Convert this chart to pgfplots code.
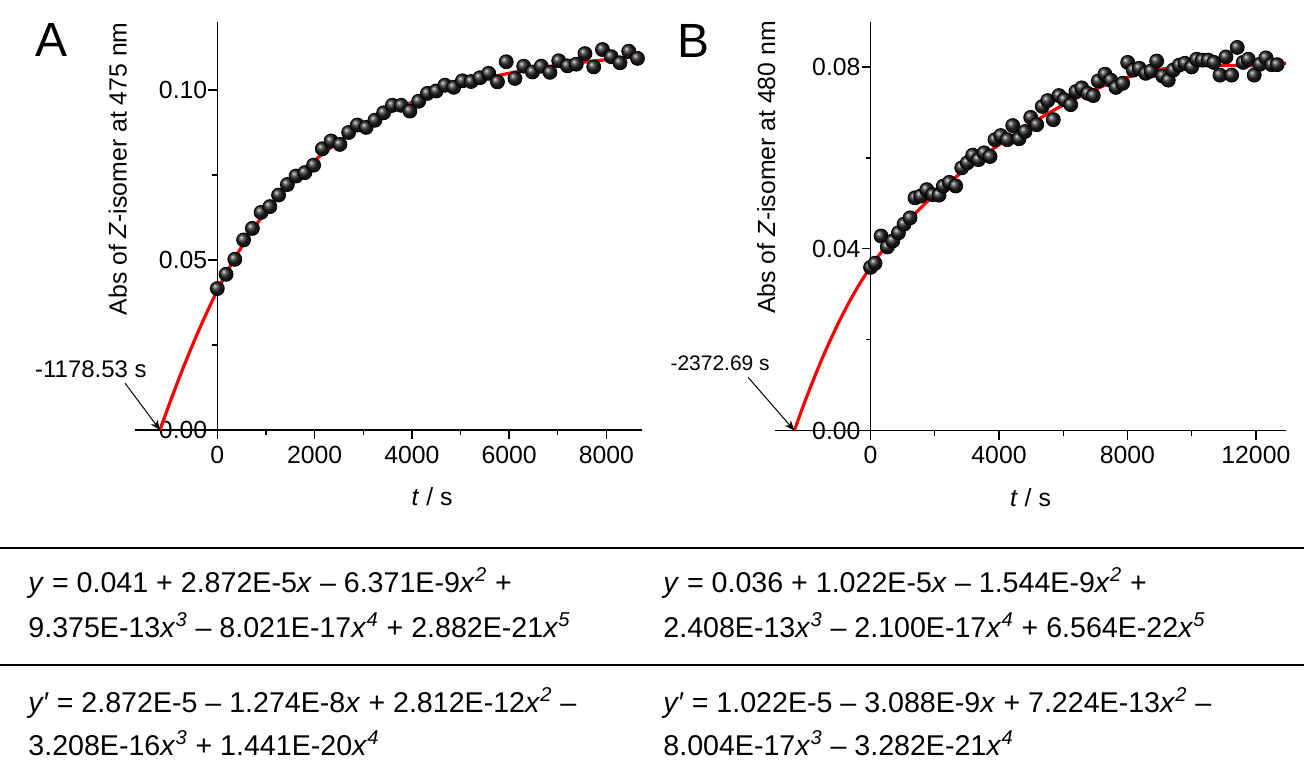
\documentclass[border=0pt]{standalone}
\usepackage{pgfplots}
\pgfplotsset{compat=1.18}
\usepackage{fontspec}
\setmainfont{Liberation Sans}
\usetikzlibrary{arrows.meta}

\pgfplotsset{
  kin/.style={
    scale only axis,
    axis lines=middle,
    hide obscured x ticks=false,
    hide obscured y ticks=false,
    axis line style={-, line width=0.7pt},
    tick align=outside,
    major tick length=4.5pt,
    minor tick length=2.5pt,
    tick style={black, line width=0.7pt},
    every tick label/.append style={font=\fontsize{12.4}{14}\selectfont},
    /pgf/number format/assume math mode=true,
    scaled ticks=false,
    minor x tick num=1,
    minor y tick num=1,
    ymin=0,
    clip=false,
    label style={font=\fontsize{12.4}{14}\selectfont},
    xticklabel style={/pgf/number format/1000 sep={}},
    yticklabel style={xshift=3pt, /pgf/number format/.cd, fixed, fixed zerofill, precision=2},
  },
  dots/.style={only marks, mark=ball, mark size=3.5pt, mark options={ball color=black!86}},
  fit/.style={red, line width=1.6pt, smooth, no marks},
}

\begin{document}
\begin{tikzpicture}
\useasboundingbox (0,0) rectangle (652pt,389pt);

% ---------------- Panel A ----------------
\begin{axis}[kin, at={(67.5pt,174pt)}, anchor=south west,
  width=253.5pt, height=204pt,
  xmin=-1693, xmax=8733, ymax=0.12,
  xtick={0,2000,4000,6000,8000}, ytick={0,0.05,0.10},
  xlabel={\textit{t} / s},
  ylabel={Abs of \textit{Z}-isomer at 475 nm},
  xlabel style={at={(axis description cs:0.586,-0.164)}, anchor=center},
  ylabel style={at={(axis description cs:-0.034,0.64)}, rotate=90, anchor=center},
]
\addplot[dots] coordinates {
(0,0.0416) (180,0.0458) (360,0.0502) (540,0.0559) (720,0.0593) (900,0.0640)
(1080,0.0657) (1260,0.0691) (1440,0.0722) (1620,0.0747) (1800,0.0757) (1980,0.0779)
(2160,0.0827) (2340,0.0850) (2520,0.0840) (2700,0.0875) (2880,0.0897) (3060,0.0890)
(3240,0.0911) (3420,0.0933) (3600,0.0955) (3780,0.0955) (3960,0.0938) (4140,0.0967)
(4320,0.0990) (4500,0.0997) (4680,0.1014) (4860,0.1008) (5040,0.1027) (5220,0.1025)
(5400,0.1036) (5580,0.1049) (5760,0.1024) (5940,0.1083) (6120,0.1034) (6300,0.1070)
(6480,0.1053) (6660,0.1070) (6840,0.1052) (7020,0.1086) (7200,0.1071) (7380,0.1076)
(7560,0.1107) (7740,0.1068) (7920,0.1119) (8100,0.1098) (8280,0.1080) (8460,0.1114)
(8640,0.1093)
};
\addplot[fit] coordinates {
(-1178.53,0) (-1000,0.00713) (-750,0.01656) (-500,0.02535) (-250,0.03350)
(0,0.04100) (250,0.04780) (500,0.05388) (750,0.05933) (1000,0.06421) (1500,0.07253)
(2000,0.07927) (2500,0.08478) (3000,0.08934) (3500,0.09315) (4000,0.09636)
(4500,0.09908) (5000,0.10139) (5500,0.10332) (6000,0.10492) (6500,0.10623)
(7000,0.10728) (7500,0.10814) (8000,0.10891) (8500,0.10973) (8733,0.11020)
};
\node[font=\fontsize{12}{14}\selectfont] at (axis cs:-2599,0.0179) {-1178.53 s};
\draw[-{Stealth[length=5pt,width=4pt]}, line width=0.5pt] (axis cs:-1899,0.0138) -- (axis cs:-1178.53,0);
\end{axis}

% ---------------- Panel B ----------------
\begin{axis}[kin, at={(387.5pt,173.75pt)}, anchor=south west,
  width=255.5pt, height=204.5pt,
  xmin=-2976, xmax=12938, ymax=0.09,
  xtick={0,4000,8000,12000}, ytick={0,0.04,0.08},
  xlabel={\textit{t} / s},
  ylabel={Abs of \textit{Z}-isomer at 480 nm},
  xlabel style={at={(axis description cs:0.5,-0.164)}, anchor=center},
  ylabel style={at={(axis description cs:-0.017,0.643)}, rotate=90, anchor=center},
]
\addplot[dots] coordinates {
(0,0.0359) (140,0.0368) (327,0.0428) (523,0.0404) (690,0.0417) (867,0.0435)
(1043,0.0454) (1230,0.0468) (1385,0.0512) (1562,0.0516) (1749,0.0530) (1936,0.0519)
(2132,0.0518) (2267,0.0538) (2453,0.0546) (2652,0.0538) (2839,0.0578) (3013,0.0589)
(3181,0.0606) (3356,0.0596) (3533,0.0611) (3720,0.0603) (3876,0.0640) (4053,0.0649)
(4259,0.0640) (4427,0.0671) (4623,0.0642) (4810,0.0658) (4987,0.0689) (5174,0.0673)
(5348,0.0713) (5516,0.0726) (5691,0.0684) (5868,0.0737) (6033,0.0728) (6232,0.0717)
(6397,0.0746) (6575,0.0754) (6761,0.0742) (6936,0.0737) (7091,0.0769) (7300,0.0784)
(7477,0.0771) (7642,0.0755) (7851,0.0764) (8007,0.0810) (8181,0.0793) (8368,0.0797)
(8567,0.0786) (8732,0.0791) (8909,0.0813) (9096,0.0780) (9271,0.0771) (9426,0.0793)
(9613,0.0804) (9791,0.0808) (9999,0.0800) (10155,0.0817) (10330,0.0815) (10516,0.0815)
(10693,0.0810) (10880,0.0782) (11067,0.0822) (11244,0.0782) (11419,0.0843) (11605,0.0810)
(11761,0.0817) (11948,0.0782) (12125,0.0806) (12312,0.0820) (12489,0.0805) (12664,0.0805)
};
\addplot[fit] coordinates {
(-2372.69,0) (-2000,0.00721) (-1500,0.01597) (-1000,0.02369) (-500,0.03037)
(0,0.03600) (500,0.04075) (1000,0.04490) (1500,0.04857) (2000,0.05188)
(3000,0.05772) (4000,0.06288) (5000,0.06753) (6000,0.07164) (7000,0.07509)
(8000,0.07773) (9000,0.07944) (10000,0.08024) (11000,0.08035) (12000,0.08028)
(12500,0.08044) (12938,0.08080)
};
\node[font=\fontsize{10.5}{12}\selectfont] at (axis cs:-4685,0.0148) {-2372.69 s};
\draw[-{Stealth[length=5pt,width=4pt]}, line width=0.5pt] (axis cs:-3813,0.0117) -- (axis cs:-2372.69,0);
\end{axis}

% panel letters
\node[font=\fontsize{24}{28}\selectfont] at (26pt,369pt) {A};
\node[font=\fontsize{24}{28}\selectfont] at (346.5pt,368.5pt) {B};

% table rules
\draw[line width=1pt] (0,115pt) -- (652pt,115pt);
\draw[line width=1pt] (0,56.5pt) -- (652pt,56.5pt);

% equations
\begin{scope}[every node/.style={anchor=base west, inner sep=0pt, font=\fontsize{14.3}{16}\selectfont}]
\node at (14pt,93pt) {\textit{y} = 0.041 + 2.872E-5\textit{x} – 6.371E-9\textit{x}\textsuperscript{\itshape 2} +};
\node at (14pt,70.5pt) {9.375E-13\textit{x}\textsuperscript{\itshape 3} – 8.021E-17\textit{x}\textsuperscript{\itshape 4} + 2.882E-21\textit{x}\textsuperscript{\itshape 5}};
\node at (14pt,33pt) {\textit{y′} = 2.872E-5 – 1.274E-8\textit{x} + 2.812E-12\textit{x}\textsuperscript{\itshape 2} –};
\node at (14pt,11.5pt) {3.208E-16\textit{x}\textsuperscript{\itshape 3} + 1.441E-20\textit{x}\textsuperscript{\itshape 4}};
\node at (331.5pt,93pt) {\textit{y} = 0.036 + 1.022E-5\textit{x} – 1.544E-9\textit{x}\textsuperscript{\itshape 2} +};
\node at (331.5pt,70.5pt) {2.408E-13\textit{x}\textsuperscript{\itshape 3} – 2.100E-17\textit{x}\textsuperscript{\itshape 4} + 6.564E-22\textit{x}\textsuperscript{\itshape 5}};
\node at (331.5pt,33pt) {\textit{y′} = 1.022E-5 – 3.088E-9\textit{x} + 7.224E-13\textit{x}\textsuperscript{\itshape 2} –};
\node at (331.5pt,11.5pt) {8.004E-17\textit{x}\textsuperscript{\itshape 3} – 3.282E-21\textit{x}\textsuperscript{\itshape 4}};
\end{scope}
\end{tikzpicture}
\end{document}
